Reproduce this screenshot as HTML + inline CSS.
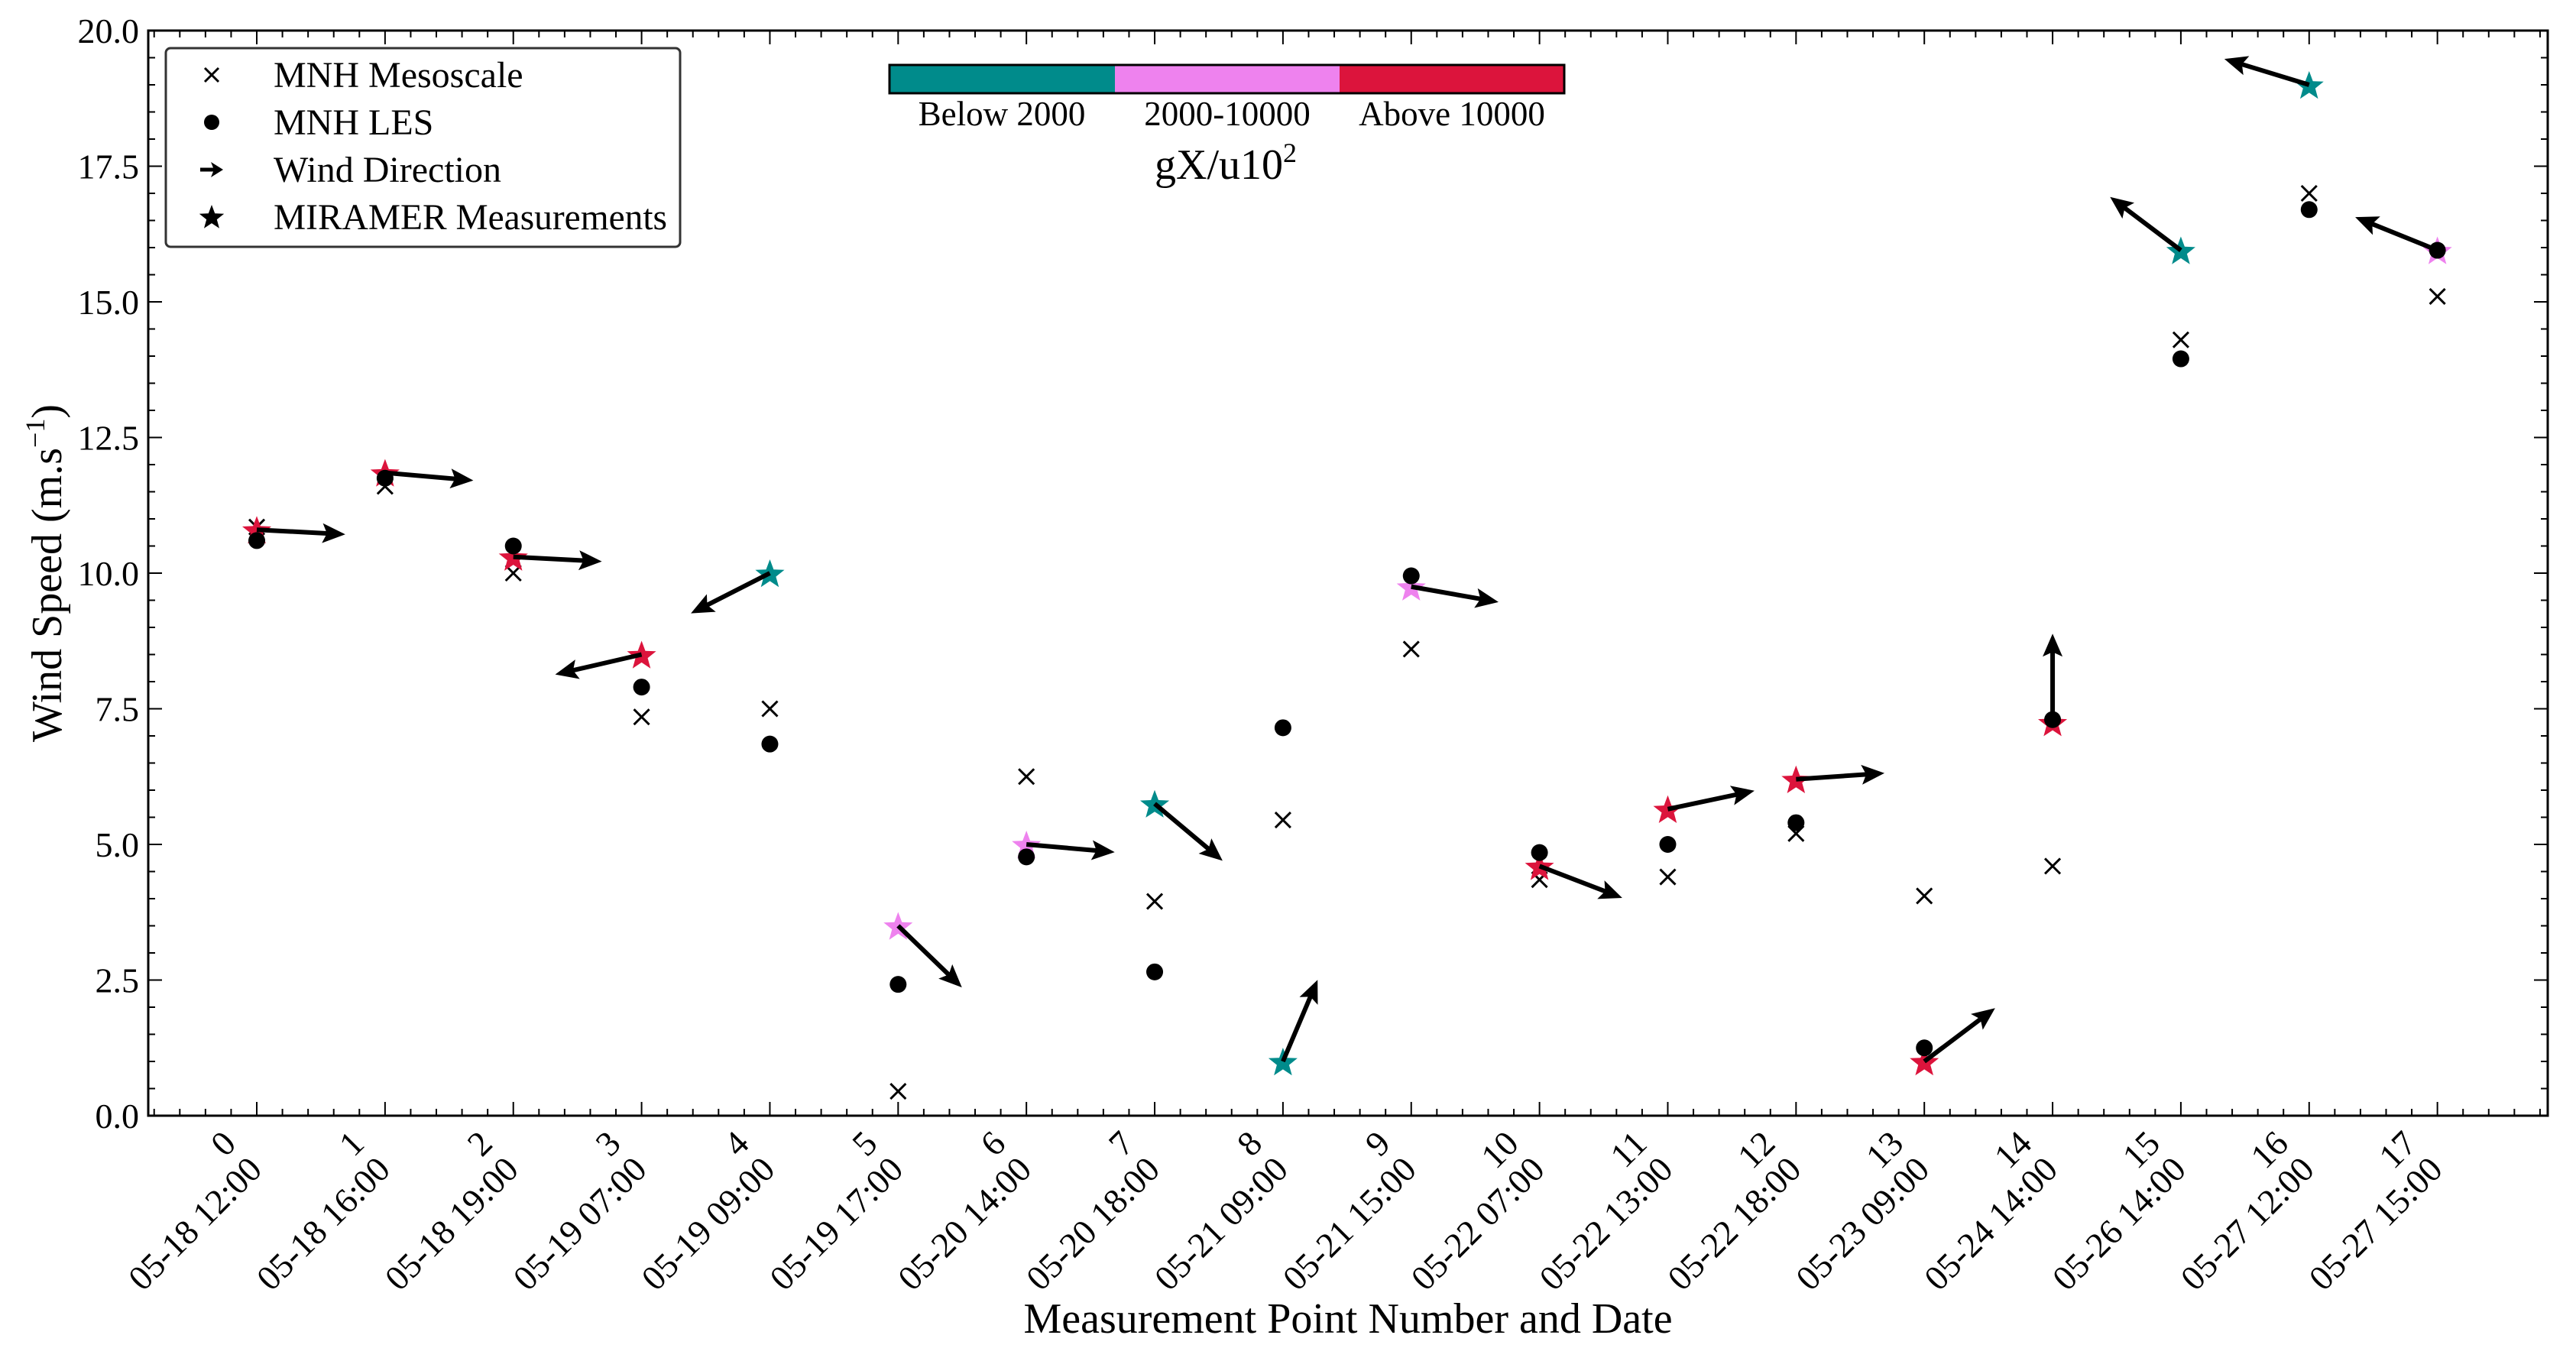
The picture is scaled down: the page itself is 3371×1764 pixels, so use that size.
<!DOCTYPE html>
<html><head><meta charset="utf-8"><style>
html,body{margin:0;padding:0;background:#fff;}
svg{display:block;font-family:"Liberation Serif",serif;}
</style></head><body>
<svg id="chart" width="3371" height="1764" viewBox="0 0 3371 1764" xmlns="http://www.w3.org/2000/svg" font-family="Liberation Serif, serif">
<g id="ticks"></g>
<g id="marks"></g>
<rect x="194" y="40" width="3140" height="1420" fill="none" stroke="#000" stroke-width="3"/>
<g>
<rect x="217" y="63" width="673" height="260" rx="6" fill="#fff" stroke="#333" stroke-width="3"/>
<g>
<path d="M268 89 L286 107 M286 89 L268 107" stroke="#000" stroke-width="3"/>
<text x="358" y="114" font-size="48">MNH Mesoscale</text></g>
<g>
<circle cx="277" cy="160" r="10" fill="#000"/>
<text x="358" y="176" font-size="48">MNH LES</text></g>
<g>
<path d="M262 222 L280 222" stroke="#000" stroke-width="5"/><path d="M292 222 L276 212 L280 222 L276 232 Z" fill="#000"/>
<text x="358" y="238" font-size="48">Wind Direction</text></g>
<g>
<polygon id="legstar" fill="#000"/>
<text x="358" y="300" font-size="48" textLength="515" lengthAdjust="spacingAndGlyphs">MIRAMER Measurements</text></g>
</g>
<g>
<rect x="1164" y="85" width="295" height="37" fill="#008B8B"/>
<rect x="1459" y="85" width="294" height="37" fill="#EE82EE"/>
<rect x="1753" y="85" width="294" height="37" fill="#DC143C"/>
<rect x="1164" y="85" width="883" height="37" fill="none" stroke="#000" stroke-width="3"/>
<text x="1311" y="164" font-size="45" text-anchor="middle">Below 2000</text>
<text x="1606" y="164" font-size="45" text-anchor="middle">2000-10000</text>
<text x="1900" y="164" font-size="45" text-anchor="middle">Above 10000</text>
<text x="1604" y="234" font-size="56" text-anchor="middle">gX/u10<tspan font-size="36" dy="-22">2</tspan></text>
</g>
<text transform="translate(80,750) rotate(-90)" font-size="56" text-anchor="middle">Wind Speed (m.s<tspan font-size="36" dy="-22">−1</tspan><tspan dy="22">)</tspan></text>
<text x="1764" y="1744" font-size="56" text-anchor="middle">Measurement Point Number and Date</text>
</svg>
<script>
const pointLabels = ["05-18 12:00","05-18 16:00","05-18 19:00","05-19 07:00","05-19 09:00","05-19 17:00","05-20 14:00","05-20 18:00","05-21 09:00","05-21 15:00","05-22 07:00","05-22 13:00","05-22 18:00","05-23 09:00","05-24 14:00","05-26 14:00","05-27 12:00","05-27 15:00"];
const miramer = [10.8,11.85,10.3,8.5,10.0,3.5,5.0,5.75,1.0,9.75,4.6,5.65,6.2,1.0,7.25,15.95,19.0,15.95];
const miramerClass = ["a","a","a","a","b","m","m","b","b","m","a","a","a","a","a","b","b","m"];
const les = [10.6,11.75,10.5,7.9,6.85,2.42,4.77,2.65,7.15,9.95,4.85,5.0,5.4,1.25,7.3,13.95,16.7,15.95];
const meso = [10.85,11.6,10.0,7.35,7.5,0.45,6.25,3.95,5.45,8.6,4.35,4.4,5.2,4.05,4.6,14.3,17.0,15.1];
const windDirDeg = [-3,-5,-3,-167,-153,-44,-5,-40,67,-10,-21,12,4,37,90,143,163,158];
const yTicks = ["0.0","2.5","5.0","7.5","10.0","12.5","15.0","17.5","20.0"];

const NS="http://www.w3.org/2000/svg";
const X0=194,X1=3334,Y0=40,Y1=1460,XMIN=-0.846,XMAX=17.86,YMIN=0,YMAX=20;
const xs=v=>X0+(v-XMIN)/(XMAX-XMIN)*(X1-X0);
const ys=v=>Y1-(v-YMIN)/(YMAX-YMIN)*(Y1-Y0);
const colors={b:"#008B8B",m:"#EE82EE",a:"#DC143C"};
function mk(t,a,p){const e=document.createElementNS(NS,t);for(const k in a)e.setAttribute(k,a[k]);p.appendChild(e);return e;}
function starPts(cx,cy,R){const r=R*0.42;let s=[];for(let i=0;i<10;i++){const ang=-Math.PI/2+i*Math.PI/5;const rr=i%2?r:R;s.push((cx+rr*Math.cos(ang)).toFixed(1)+","+(cy+rr*Math.sin(ang)).toFixed(1));}return s.join(" ");}
document.getElementById('legstar').setAttribute('points',starPts(277,285,17));
const T=document.getElementById('ticks'),M=document.getElementById('marks');
for(let v=0;v<=20.001;v+=0.5){const y=ys(v);const major=Math.abs(v/2.5-Math.round(v/2.5))<1e-6;const L=major?18:9;
 mk('line',{x1:X0,y1:y,x2:X0+L,y2:y,stroke:'#000','stroke-width':2},T);
 mk('line',{x1:X1,y1:y,x2:X1-L,y2:y,stroke:'#000','stroke-width':2},T);}
yTicks.forEach(s=>{const v=parseFloat(s);const t=mk('text',{x:182,y:ys(v)+16,'font-size':46,'text-anchor':'end'},T);t.textContent=s;

});
for(let k=-4;k<=89;k++){const v=k*0.2;if(v<XMIN||v>XMAX)continue;const x=xs(v);const major=k%5===0;const L=major?18:9;
 mk('line',{x1:x,y1:Y1,x2:x,y2:Y1-L,stroke:'#000','stroke-width':2},T);
 mk('line',{x1:x,y1:Y0,x2:x,y2:Y0+L,stroke:'#000','stroke-width':2},T);}
pointLabels.forEach((s,i)=>{const g=mk('g',{transform:`translate(${xs(i)+9},1533) rotate(-45)`},T);


const a=mk('text',{x:0,y:-48,'font-size':46,'text-anchor':'end'},g);a.textContent=String(i);
const b=mk('text',{x:0,y:0,'font-size':46,'text-anchor':'end'},g);b.textContent=s;});
meso.forEach((v,i)=>{const x=xs(i),y=ys(v);const p=mk('path',{d:`M${x-10} ${y-10} L${x+10} ${y+10} M${x+10} ${y-10} L${x-10} ${y+10}`,stroke:'#000','stroke-width':3},M);

});
miramer.forEach((v,i)=>{const p=mk('polygon',{points:starPts(xs(i),ys(v)+2,20),fill:colors[miramerClass[i]]},M);

});
les.forEach((v,i)=>{const c=mk('circle',{cx:xs(i),cy:ys(v),r:11,fill:'#000'},M);

});
windDirDeg.forEach((d,i)=>{const x=xs(i),y=ys(miramer[i]);const a=d*Math.PI/180;const ux=Math.cos(a),uy=-Math.sin(a);const L=116,H=30,W=13;
 const tx=x+ux*L,ty=y+uy*L;const bx=tx-ux*H,by=ty-uy*H;const nx=-uy,ny=ux;
 const g=mk('g',{},M);
 
 
 mk('line',{x1:x,y1:y,x2:tx-ux*20,y2:ty-uy*20,stroke:'#000','stroke-width':6},g);
 mk('polygon',{points:`${tx},${ty} ${bx+nx*W},${by+ny*W} ${tx-ux*H*0.8},${ty-uy*H*0.8} ${bx-nx*W},${by-ny*W}`,fill:'#000'},g);});
</script>
</body></html>
